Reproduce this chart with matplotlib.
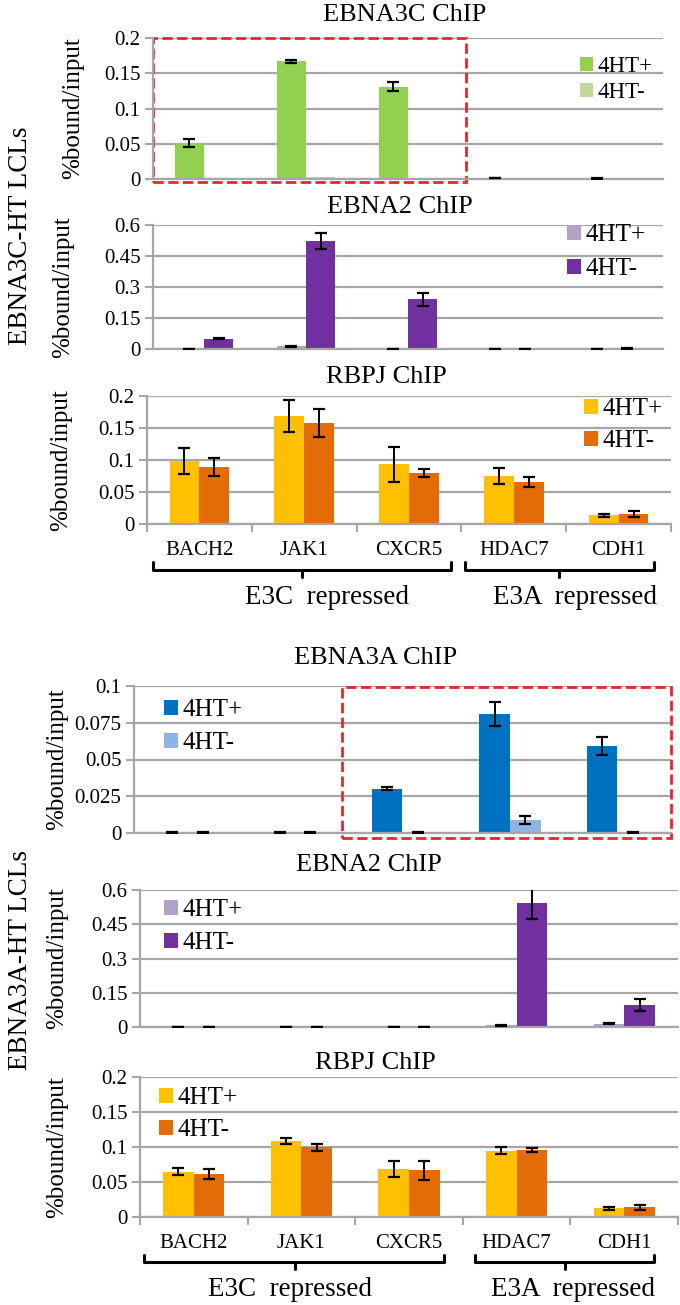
import matplotlib.pyplot as plt
from matplotlib.lines import Line2D
from matplotlib.patches import Rectangle
import numpy as np

plt.rcParams['font.family'] = 'serif'
plt.rcParams['font.serif'] = ['Liberation Serif', 'Times New Roman', 'DejaVu Serif']

W, H = 680, 1305

genes = ["BACH2", "JAK1", "CXCR5", "HDAC7", "CDH1"]
series = ["4HT+", "4HT-"]

# EBNA3C-HT LCLs
e3c_chip_plus = [0.051, 0.167, 0.131, 0.0015, 0.0008]
e3c_chip_plus_err = [0.006, 0.002, 0.006, 0.0006, 0.0004]
e3c_chip_minus = [0.0005, 0.003, 0.0005, 0.0005, 0.0005]
e3c_chip_minus_err = [np.nan, np.nan, np.nan, np.nan, np.nan]  # no visible bars

c_ebna2_plus = [0.001, 0.013, 0.001, 0.001, 0.001]
c_ebna2_plus_err = [0.001, 0.002, 0.001, 0.001, 0.001]
c_ebna2_minus = [0.050, 0.522, 0.24, 0.001, 0.002]
c_ebna2_minus_err = [0.004, 0.04, 0.03, 0.001, 0.001]

c_rbpj_plus = [0.098, 0.169, 0.093, 0.075, 0.0135]
c_rbpj_plus_err = [0.020, 0.025, 0.028, 0.013, 0.0025]
c_rbpj_minus = [0.089, 0.158, 0.080, 0.066, 0.0157]
c_rbpj_minus_err = [0.014, 0.022, 0.006, 0.008, 0.0045]

# EBNA3A-HT LCLs
e3a_chip_plus = [0.0004, 0.0004, 0.030, 0.081, 0.059]
e3a_chip_plus_err = [0.0003, 0.0003, 0.001, 0.008, 0.006]
e3a_chip_minus = [0.0004, 0.0004, 0.0003, 0.0088, 0.0005]
e3a_chip_minus_err = [0.0003, 0.0003, 0.0003, 0.0027, 0.0003]

a_ebna2_plus = [0.001, 0.001, 0.001, 0.007, 0.014]
a_ebna2_plus_err = [0.001, 0.001, 0.001, 0.002, 0.002]
a_ebna2_minus = [0.001, 0.001, 0.001, 0.545, 0.097]
a_ebna2_minus_err = [0.001, 0.001, 0.001, 0.07, 0.025]

a_rbpj_plus = [0.065, 0.109, 0.068, 0.095, 0.0125]
a_rbpj_plus_err = [0.005, 0.0045, 0.0115, 0.0055, 0.002]
a_rbpj_minus = [0.0615, 0.100, 0.0665, 0.0957, 0.0138]
a_rbpj_minus_err = [0.0068, 0.005, 0.013, 0.003, 0.0036]

ticks_02 = [0, 0.05, 0.1, 0.15, 0.2]
labels_02 = ["0", "0.05", "0.1", "0.15", "0.2"]
ticks_06 = [0, 0.15, 0.3, 0.45, 0.6]
labels_06 = ["0", "0.15", "0.3", "0.45", "0.6"]
ticks_01 = [0, 0.025, 0.05, 0.075, 0.1]
labels_01 = ["0", "0.025", "0.05", "0.075", "0.1"]

GREEN = ["#92D050", "#C3D69B"]
PURPLE = ["#B3A2C7", "#7030A0"]
ORANGE = ["#FFC000", "#E36C09"]
BLUE = ["#0070C0", "#8DB4E2"]
GRID = "#A6A6A6"
BW = 0.285

fig = plt.figure(figsize=(W / 100, H / 100), dpi=100)


def fx(x):
    return x / W


def fy(y):
    return 1 - y / H


def panel(box, ticks, tlabels, plus, plus_err, minus, minus_err, colors,
          title, title_xy, leg_xy, leg_sp, ylab_x, show_genes=False, leg_fs=18):
    x0, y0, x1, y1 = box
    ax = fig.add_axes([fx(x0), fy(y1), (x1 - x0) / W, (y1 - y0) / H])
    x = np.arange(len(genes))
    ekw = dict(ecolor="black", elinewidth=1.4, capsize=4, capthick=1.6,
               zorder=3)
    ax.bar(x - BW / 2, plus, BW, yerr=plus_err, color=colors[0],
           label=series[0], error_kw=ekw)
    ax.bar(x + BW / 2, minus, BW, yerr=minus_err, color=colors[1],
           label=series[1], error_kw=ekw)
    ax.set_xlim(-0.5, len(genes) - 0.5)
    ax.set_ylim(0, ticks[-1])
    ax.set_yticks(ticks, tlabels, fontsize=15)
    ax.tick_params(axis="y", length=6, width=1.5, color=GRID, pad=3)
    ax.yaxis.grid(True, color=GRID, lw=1.6)
    ax.set_axisbelow(True)
    for s in ["top", "right"]:
        ax.spines[s].set_visible(False)
    for s in ["left", "bottom"]:
        ax.spines[s].set_color(GRID)
        ax.spines[s].set_linewidth(1.6)
    if show_genes:
        ax.set_xticks(x, genes, fontsize=15)
        ax.set_xticks(np.arange(len(genes) + 1) - 0.5, minor=True)
        ax.tick_params(axis="x", which="major", length=0, pad=12)
        ax.tick_params(axis="x", which="minor", length=6, width=1.5,
                       color=GRID)
    else:
        ax.set_xticks([])
    fig.text(fx(title_xy[0]), fy(title_xy[1]), title, fontsize=19,
             ha="center", va="center")
    fig.text(fx(ylab_x), fy((y0 + y1) / 2), "%bound/input", fontsize=18,
             rotation=90, ha="center", va="center")
    ax.legend(loc="upper left", bbox_to_anchor=(fx(leg_xy[0]), fy(leg_xy[1])),
              bbox_transform=fig.transFigure, frameon=False, fontsize=leg_fs,
              handlelength=0.55, handleheight=0.55, handletextpad=0.2,
              borderpad=0, borderaxespad=0,
              labelspacing=(leg_sp - leg_fs * 1.39) / (leg_fs * 1.39))
    return ax


ax1 = panel((153, 38, 663, 179), ticks_02, labels_02, e3c_chip_plus,
            e3c_chip_plus_err, e3c_chip_minus, e3c_chip_minus_err, GREEN,
            "EBNA3C ChIP", (405, 15), (580, 56), 28, 73, leg_fs=16.5)
ax1.add_patch(Rectangle((-0.5, -0.004), 3.07, 0.204, fill=False,
                        ec="#E8262B", ls="--", lw=2, clip_on=False))

panel((153, 225, 663, 349), ticks_06, labels_06, c_ebna2_plus,
      c_ebna2_plus_err, c_ebna2_minus, c_ebna2_minus_err, PURPLE,
      "EBNA2 ChIP", (400, 207), (567, 224), 37, 63)

panel((147, 396, 671, 524), ticks_02, labels_02, c_rbpj_plus,
      c_rbpj_plus_err, c_rbpj_minus, c_rbpj_minus_err, ORANGE,
      "RBPJ ChIP", (386, 377), (584, 398), 35, 61, show_genes=True)

ax4 = panel((134, 686, 671, 833), ticks_01, labels_01, e3a_chip_plus,
            e3a_chip_plus_err, e3a_chip_minus, e3a_chip_minus_err, BLUE,
            "EBNA3A ChIP", (376, 658), (164, 699), 36, 57)
ax4.add_patch(Rectangle((1.44, -0.0032), 3.06, 0.1022, fill=False,
                        ec="#E8262B", ls="--", lw=2, clip_on=False))

panel((140, 890, 678, 1027), ticks_06, labels_06, a_ebna2_plus,
      a_ebna2_plus_err, a_ebna2_minus, a_ebna2_minus_err, PURPLE,
      "EBNA2 ChIP", (369, 865), (164, 899), 36, 57)

panel((140, 1077, 678, 1217), ticks_02, labels_02, a_rbpj_plus,
      a_rbpj_plus_err, a_rbpj_minus, a_rbpj_minus_err, ORANGE,
      "RBPJ ChIP", (375, 1063), (159, 1087), 35, 57, show_genes=True)


def brace(xa, xb, xc, ytop, ybar, ytip):
    kw = dict(color="black", lw=2.2, solid_joinstyle="round",
              solid_capstyle="round")
    fig.add_artist(Line2D([fx(xa), fx(xa), fx(xb), fx(xb)],
                          [fy(ytop), fy(ybar), fy(ybar), fy(ytop)], **kw))
    fig.add_artist(Line2D([fx(xc), fx(xc)], [fy(ybar), fy(ytip)], **kw))


brace(153, 451, 302, 562, 570, 577)
brace(465, 654, 559, 562, 570, 577)
brace(144, 444, 295, 1255, 1262, 1269)
brace(475, 654, 565, 1255, 1262, 1269)

for x, y, s in [(327, 598, "E3C  repressed"), (575, 598, "E3A  repressed"),
                (290, 1290, "E3C  repressed"), (573, 1290, "E3A  repressed")]:
    fig.text(fx(x), fy(y), s, fontsize=19.5, ha="center", va="center")

fig.text(fx(21), fy(236), "EBNA3C-HT LCLs", fontsize=19.5, rotation=90,
         ha="center", va="center")
fig.text(fx(21), fy(960), "EBNA3A-HT LCLs", fontsize=19.5, rotation=90,
         ha="center", va="center")

fig.savefig("out.png", dpi=100)
